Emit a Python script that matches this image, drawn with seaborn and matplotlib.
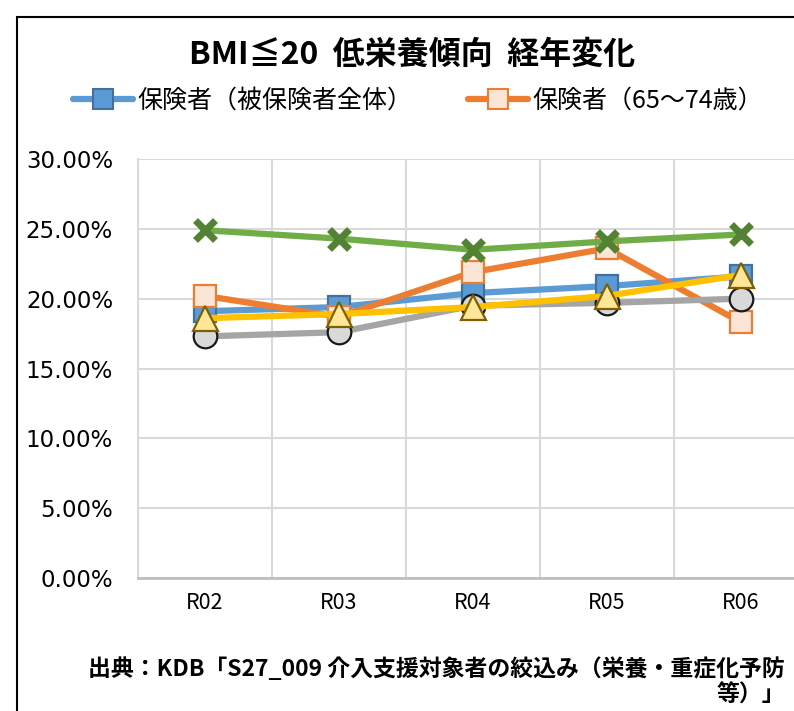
import numpy as np
import pandas as pd
import matplotlib
matplotlib.use('Agg')
import matplotlib.pyplot as plt
import seaborn as sns
from matplotlib.lines import Line2D
from matplotlib.patches import Rectangle
from matplotlib.ticker import FuncFormatter


years = ['R02', 'R03', 'R04', 'R05', 'R06']

hoken_all = [19.1, 19.4, 20.4, 20.9, 21.6]      # 保険者（被保険者全体）
hoken_65_74 = [20.2, 18.7, 21.9, 23.6, 18.3]    # 保険者（65～74歳）
gray_series = [17.3, 17.6, 19.5, 19.7, 20.0]
yellow_series = [18.6, 18.9, 19.4, 20.2, 21.7]
green_series = [24.9, 24.3, 23.5, 24.1, 24.6]

legend_labels = ['保険者（被保険者全体）', '保険者（65～74歳）']
y_ticks = [0, 5, 10, 15, 20, 25, 30]


sns.set_theme(style='white')
plt.rcParams['font.family'] = ['Noto Sans CJK JP', 'DejaVu Sans']
plt.rcParams['text.color'] = 'black'

fig = plt.figure(figsize=(7.94, 7.11), dpi=100)
ax = fig.add_axes([138/794, (711-578)/711, (808-138)/794, (578-159)/711])

x = np.arange(len(years))

styles = [
    (hoken_all, '#5B9BD5', 's', '#5B9BD5', '#41719C', 16),
    (hoken_65_74, '#ED7D31', 's', '#FBE5D6', '#ED7D31', 16),
    (gray_series, '#A5A5A5', 'o', '#D9D9D9', '#1A1A1A', 17),
    (yellow_series, '#FFC000', '^', '#FFE699', '#7F6000', 18),
]
for vals, col, mk, fc, ec, ms in styles:
    sns.lineplot(x=x, y=vals, ax=ax, color=col, linewidth=4.5, marker=mk,
                 markersize=ms, markerfacecolor=fc, markeredgecolor=ec,
                 markeredgewidth=1.6, legend=False)

sns.lineplot(x=x, y=green_series, ax=ax, color='#70AD47', linewidth=4.5,
             legend=False)
ax.plot(x, green_series, linestyle='none', marker='x', markersize=15,
        markeredgewidth=5, color='#548235')

ax.set_xlim(-0.5, 4.5)
ax.set_ylim(0, 30)
ax.set_xticks(x)
ax.set_xticklabels(years, fontsize=15.5, color='black')
ax.set_xticks(x[:-1] + 0.5, minor=True)
ax.set_yticks(y_ticks)
ax.yaxis.set_major_formatter(FuncFormatter(lambda v, p: f'{v:.2f}%'))
for lbl in ax.get_yticklabels():
    lbl.set_fontfamily('DejaVu Sans')
    lbl.set_fontsize(16.5)
    lbl.set_color('black')
ax.tick_params(axis='y', pad=18, length=0, labelcolor='black')
ax.tick_params(axis='x', which='both', length=0, pad=10, labelcolor='black')
ax.grid(True, axis='y', which='major', color='#D9D9D9', linewidth=1.5)
ax.grid(True, axis='x', which='minor', color='#D9D9D9', linewidth=1.5)
ax.set_axisbelow(True)
for side in ['top', 'right']:
    ax.spines[side].set_visible(False)
ax.spines['left'].set_color('#D9D9D9')
ax.spines['left'].set_linewidth(1.5)
ax.spines['bottom'].set_color('#BFBFBF')
ax.spines['bottom'].set_linewidth(2)
ax.set_xlabel('')
ax.set_ylabel('')

fig.patches.append(Rectangle((17/794, -0.1), 2, 1 - 17/711 + 0.1,
                             transform=fig.transFigure, fill=False,
                             edgecolor='black', linewidth=1.5))

fig.text(412/794, 1 - 55/711, 'BMI≦20  低栄養傾向  経年変化', ha='center',
         va='center', fontsize=23, fontweight='bold')

handles = [
    Line2D([], [], color='#5B9BD5', linewidth=4.5, marker='s', markersize=14,
           markerfacecolor='#5B9BD5', markeredgecolor='#41719C', markeredgewidth=1.5),
    Line2D([], [], color='#ED7D31', linewidth=4.5, marker='s', markersize=14,
           markerfacecolor='#FBE5D6', markeredgecolor='#ED7D31', markeredgewidth=1.5),
]
fig.legend(handles, legend_labels, loc='center', ncol=2,
           bbox_to_anchor=(418/794, 1 - 101/711), frameon=False,
           fontsize=18, handlelength=2.4, handletextpad=0.2, columnspacing=2.2)

fig.text(785/794, 1 - 682/711,
         '出典：KDB「S27_009 介入支援対象者の絞込み（栄養・重症化予防\n等）」',
         ha='right', va='center', multialignment='right', fontsize=16.5,
         fontweight='bold', linespacing=1.1)

fig.savefig('out.png', dpi=100)
